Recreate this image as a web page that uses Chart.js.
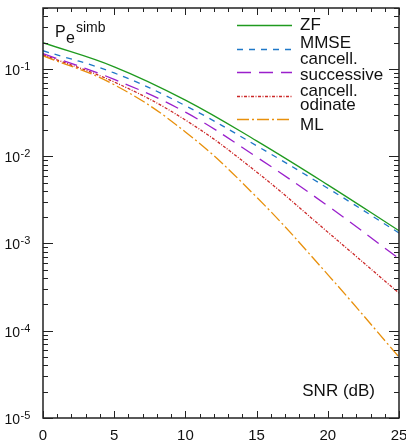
<!DOCTYPE html>
<html>
<head>
<meta charset="utf-8">
<script src="https://cdn.jsdelivr.net/npm/chart.js@4.4.1/dist/chart.umd.min.js"></script>
<style>
  html, body { margin: 0; padding: 0; background: #fff; }
  #wrap { width: 406px; height: 444px; }
</style>
</head>
<body>
<div id="wrap"><canvas id="pe" width="406" height="444"></canvas></div>
<script>
/* --- data --- */
const snrDb = [0, 5, 10, 15, 20, 25];
const peZF   = [0.200, 0.106, 0.044, 0.0150, 0.00470, 0.00140];
const peMMSE = [0.162, 0.090, 0.038, 0.0132, 0.00430, 0.00132];
const peSIC  = [0.150, 0.076, 0.032, 0.0098, 0.00270, 0.00067];
const peOSIC = [0.146, 0.071, 0.026, 0.0066, 0.00135, 0.00027];
const peML   = [0.142, 0.066, 0.019, 0.0034, 0.00044, 0.00005];

const xMajor = [0, 5, 10, 15, 20, 25];
const yDecades = [-5, -4, -3, -2, -1];

const FONT = '"Liberation Sans", Arial, Helvetica, sans-serif';

const pts = arr => arr.map((v, i) => ({ x: snrDb[i], y: v }));

/* legend rows: line sample + text lines (text offsets are layout only) */
const legendRows = [
    { ds: 0, lineY: 25, texts: [['ZF', 30]] },
    { ds: 1, lineY: 49, texts: [['MMSE', 48], ['cancell.', 64]] },
    { ds: 2, lineY: 72, texts: [['successive', 80]] },
    { ds: 3, lineY: 96, texts: [['cancell.', 96], ['odinate', 110]] },
    { ds: 4, lineY: 119, texts: [['ML', 130]] },
];

const frame = {
    id: 'frame',
    afterDraw(chart) {
        const { ctx, chartArea: a, scales: { x, y } } = chart;
        ctx.save();

        /* box */
        ctx.strokeStyle = '#222';
        ctx.lineWidth = 1.5;
        ctx.strokeRect(a.left, a.top, a.right - a.left, a.bottom - a.top);

        /* x ticks: bottom + top, inward */
        ctx.lineWidth = 1;
        ctx.beginPath();
        for (let v = 0; v <= 25; v++) {
            const px = Math.round(x.getPixelForValue(v)) + 0.5;
            const len = v % 5 === 0 ? 7 : 4;
            ctx.moveTo(px, a.bottom); ctx.lineTo(px, a.bottom - len);
            ctx.moveTo(px, a.top); ctx.lineTo(px, a.top + len);
        }
        /* y ticks: left + right, inward */
        for (let d = -5; d <= 0; d++) {
            for (let m = 1; m <= 9; m++) {
                const v = m * Math.pow(10, d);
                if (v < y.min || v > y.max) continue;
                const py = Math.round(y.getPixelForValue(v)) + 0.5;
                const len = m === 1 ? 10 : 5;
                ctx.moveTo(a.left, py); ctx.lineTo(a.left + len, py);
                ctx.moveTo(a.right, py); ctx.lineTo(a.right - len, py);
            }
        }
        ctx.stroke();

        /* x tick labels */
        ctx.fillStyle = '#111';
        ctx.font = '15px ' + FONT;
        ctx.textAlign = 'center';
        ctx.textBaseline = 'alphabetic';
        xMajor.forEach(v => ctx.fillText(String(v), x.getPixelForValue(v), 440));

        /* y tick labels 10^n */
        yDecades.forEach(d => {
            const py = y.getPixelForValue(Math.pow(10, d));
            ctx.font = '14px ' + FONT;
            ctx.textAlign = 'right';
            ctx.fillText('10', 20, py + 6);
            ctx.font = '11px ' + FONT;
            ctx.textAlign = 'left';
            ctx.fillText(String(d), 20.5, py + 1);
        });

        /* Pe^simb */
        ctx.textAlign = 'left';
        ctx.font = '16px ' + FONT;
        ctx.fillText('P', 55, 37);
        ctx.fillText('e', 66, 43);
        ctx.font = '14px ' + FONT;
        ctx.fillText('simb', 76, 32);

        /* axis title */
        ctx.font = '17px ' + FONT;
        ctx.textAlign = 'right';
        ctx.fillText('SNR (dB)', 375, 396);

        /* legend */
        legendRows.forEach(r => {
            const ds = chart.data.datasets[r.ds];
            ctx.strokeStyle = ds.borderColor;
            ctx.lineWidth = ds.borderWidth;
            ctx.setLineDash(ds.borderDash || []);
            ctx.beginPath();
            ctx.moveTo(237, r.lineY + 0.5);
            ctx.lineTo(292, r.lineY + 0.5);
            ctx.stroke();
            ctx.setLineDash([]);
            ctx.fillStyle = '#111';
            ctx.font = '17px ' + FONT;
            ctx.textAlign = 'left';
            r.texts.forEach(([t, by]) => ctx.fillText(t, 300, by));
        });

        ctx.restore();
    },
};

const lineDs = (label, data, color, dash) => ({
    label, data: pts(data),
    borderColor: color, borderWidth: 1.3, borderDash: dash,
    pointRadius: 0, fill: false, tension: 0.4,
});

new Chart(document.getElementById('pe'), {
    type: 'line',
    data: {
        datasets: [
            lineDs('ZF', peZF, '#1f9a1f', []),
            lineDs('MMSE', peMMSE, '#1f78c8', [6, 6]),
            lineDs('successive cancell.', peSIC, '#9a1fcc', [14, 8]),
            lineDs('odinate cancell.', peOSIC, '#cc2828', [3, 1.5, 1, 1.5]),
            lineDs('ML', peML, '#e8900c', [12, 3, 2, 3]),
        ],
    },
    options: {
        responsive: false,
        animation: false,
        layout: { padding: { left: 43, top: 8, right: 7, bottom: 26 } },
        plugins: { legend: { display: false }, tooltip: { enabled: false } },
        scales: {
            x: { type: 'linear', min: 0, max: 25, display: false },
            y: { type: 'logarithmic', min: 1e-5, max: 0.5, display: false },
        },
    },
    plugins: [frame],
});
</script>
</body>
</html>
